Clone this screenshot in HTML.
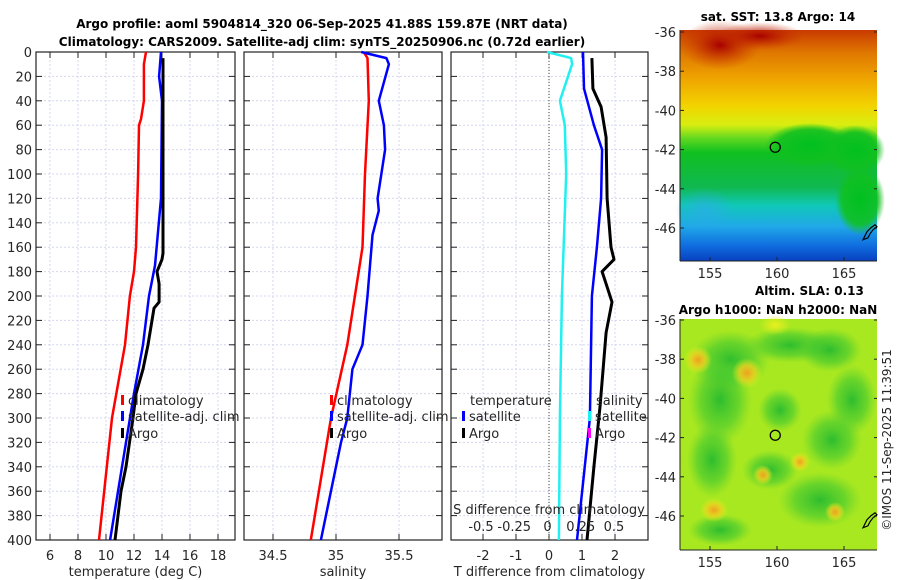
<!DOCTYPE html>
<html><head><meta charset="utf-8">
<style>
body{margin:0;background:#fff;}
svg{display:block;font-family:"DejaVu Sans","Liberation Sans",sans-serif;}
text{fill:#262626;}
</style></head>
<body>
<svg id="fig" width="900" height="580" viewBox="0 0 900 580" xmlns="http://www.w3.org/2000/svg">
<defs>
<linearGradient id="sstg" x1="0" y1="0" x2="0" y2="1">
<stop offset="0" stop-color="#c83a00"/>
<stop offset="0.1" stop-color="#e07800"/>
<stop offset="0.22" stop-color="#f0a800"/>
<stop offset="0.33" stop-color="#f2d400"/>
<stop offset="0.41" stop-color="#d8ee10"/>
<stop offset="0.47" stop-color="#60d820"/>
<stop offset="0.53" stop-color="#10c020"/>
<stop offset="0.68" stop-color="#10b850"/>
<stop offset="0.76" stop-color="#10c8b8"/>
<stop offset="0.85" stop-color="#20a8e8"/>
<stop offset="0.93" stop-color="#1070e0"/>
<stop offset="1" stop-color="#0840c0"/>
</linearGradient>
<radialGradient id="blobO"><stop offset="0" stop-color="#f0a020"/><stop offset="0.5" stop-color="#f0d020" stop-opacity="0.8"/><stop offset="1" stop-color="#e8f020" stop-opacity="0"/></radialGradient>
<radialGradient id="blobY"><stop offset="0" stop-color="#e8f020"/><stop offset="1" stop-color="#e8f020" stop-opacity="0"/></radialGradient>
<radialGradient id="blobG"><stop offset="0" stop-color="#20b830" stop-opacity="0.9"/><stop offset="0.6" stop-color="#40c830" stop-opacity="0.6"/><stop offset="1" stop-color="#60d030" stop-opacity="0"/></radialGradient>
<radialGradient id="blobR"><stop offset="0" stop-color="#a80000"/><stop offset="1" stop-color="#c83000" stop-opacity="0"/></radialGradient>
<radialGradient id="blobGr"><stop offset="0" stop-color="#00c020"/><stop offset="0.7" stop-color="#10c020" stop-opacity="0.9"/><stop offset="1" stop-color="#10c020" stop-opacity="0"/></radialGradient>
<radialGradient id="blobB"><stop offset="0" stop-color="#30a8f0" stop-opacity="0.6"/><stop offset="1" stop-color="#30a8f0" stop-opacity="0"/></radialGradient>
</defs>
<g id="titles">
<text x="322" y="28" font-size="12" font-weight="bold" text-anchor="middle" style="fill:#000">Argo profile: aoml 5904814_320 06-Sep-2025 41.88S 159.87E (NRT data)</text>
<text x="322" y="46" font-size="12" font-weight="bold" text-anchor="middle" style="fill:#000">Climatology: CARS2009. Satellite-adj clim: synTS_20250906.nc (0.72d earlier)</text>
</g>
<g id="panels"></g>
<g id="maps">
<text x="778" y="21" font-size="12" font-weight="bold" text-anchor="middle" style="fill:#000">sat. SST: 13.8 Argo: 14</text>
<g>
<rect x="680" y="30" width="197" height="231" fill="url(#sstg)"/>
<ellipse cx="720" cy="45" rx="40" ry="25" fill="url(#blobR)"/>
<ellipse cx="760" cy="36" rx="45" ry="14" fill="url(#blobR)"/>
<ellipse cx="810" cy="145" rx="45" ry="22" fill="url(#blobGr)"/>
<ellipse cx="855" cy="150" rx="30" ry="25" fill="url(#blobGr)"/>
<ellipse cx="860" cy="200" rx="25" ry="35" fill="url(#blobGr)"/>
<ellipse cx="705" cy="210" rx="30" ry="22" fill="url(#blobB)"/>
</g>
<g>
<rect x="680" y="319" width="197" height="231" fill="#a8e820"/>
<ellipse cx="730" cy="360" rx="40" ry="30" fill="url(#blobG)"/>
<ellipse cx="720" cy="400" rx="32" ry="45" fill="url(#blobG)"/>
<ellipse cx="790" cy="345" rx="45" ry="18" fill="url(#blobG)"/>
<ellipse cx="830" cy="350" rx="32" ry="22" fill="url(#blobG)"/>
<ellipse cx="852" cy="400" rx="25" ry="35" fill="url(#blobG)"/>
<ellipse cx="832" cy="440" rx="30" ry="30" fill="url(#blobG)"/>
<ellipse cx="712" cy="460" rx="25" ry="38" fill="url(#blobG)"/>
<ellipse cx="770" cy="470" rx="28" ry="20" fill="url(#blobG)"/>
<ellipse cx="820" cy="500" rx="42" ry="28" fill="url(#blobG)"/>
<ellipse cx="720" cy="530" rx="32" ry="16" fill="url(#blobG)"/>
<ellipse cx="780" cy="410" rx="22" ry="22" fill="url(#blobG)"/>
<ellipse cx="698" cy="360" rx="14" ry="14" fill="url(#blobO)"/>
<ellipse cx="747" cy="373" rx="15" ry="15" fill="url(#blobO)"/>
<ellipse cx="714" cy="510" rx="14" ry="12" fill="url(#blobO)"/>
<ellipse cx="763" cy="475" rx="10" ry="10" fill="url(#blobO)"/>
<ellipse cx="835" cy="512" rx="10" ry="10" fill="url(#blobO)"/>
<ellipse cx="800" cy="462" rx="10" ry="10" fill="url(#blobO)"/>
<ellipse cx="775" cy="325" rx="16" ry="10" fill="url(#blobY)"/>
</g>
<text x="755" y="295" font-size="12" font-weight="bold" style="fill:#000">Altim. SLA: 0.13</text>
<text x="778" y="314" font-size="12" font-weight="bold" text-anchor="middle" style="fill:#000">Argo h1000: NaN h2000: NaN</text>
<text transform="translate(891,440) rotate(-90)" font-size="12" text-anchor="middle">©IMOS 11-Sep-2025 11:39:51</text>
</g>
</svg>
<script>
// ---- data ----
const depthTicks=[0,20,40,60,80,100,120,140,160,180,200,220,240,260,280,300,320,340,360,380,400];
const tempTicks=[6,8,10,12,14,16,18];
const salTicks=[34.5,35,35.5];
const salTickLabels=["34.5","35","35.5"];
const tdiffTicks=[-2,-1,0,1,2];
const sdiffTickLabels=["-0.5","-0.25","0","0.25","0.5"];
const sdiffTicks=[-0.5,-0.25,0,0.25,0.5];
const tClimDepth=[0,10,40,55,60,100,160,180,200,240,300,400];
const tClimVal=[12.86,12.71,12.71,12.5,12.36,12.29,12.14,12.0,11.71,11.36,10.43,9.5];
const tSatDepth=[0,20,40,120,175,200,240,280,320,400];
const tSatVal=[13.93,13.79,14.0,13.93,13.5,13.07,12.64,12.0,11.43,10.29];
const tArgoDepth=[5,165,170,180,190,205,210,240,260,280,300,340,360,400];
const tArgoVal=[14.07,14.07,14.0,13.64,13.79,13.79,13.43,13.0,12.64,12.14,11.93,11.43,11.07,10.64];
const sClimDepth=[0,5,40,100,160,200,240,300,400];
const sClimVal=[35.22,35.25,35.26,35.23,35.21,35.15,35.09,34.96,34.8];
const sSatDepth=[0,5,10,40,60,80,120,130,150,200,240,260,300,320,400];
const sSatVal=[35.2,35.4,35.42,35.34,35.38,35.39,35.33,35.34,35.29,35.25,35.21,35.13,35.09,35.04,34.88];
const dSalSatDepth=[0,5,10,40,60,100,200,300,400];
const dSalSatVal=[-0.06,0.67,0.7,0.33,0.48,0.52,0.39,0.33,0.3];
const dTSatDepth=[0,30,60,80,120,160,200,300,400];
const dTSatVal=[1.03,1.06,1.36,1.61,1.58,1.45,1.3,1.24,0.85];
const dTArgoDepth=[5,30,45,70,120,160,170,180,190,205,230,260,290,340,400];
const dTArgoVal=[1.3,1.33,1.58,1.73,1.76,1.88,1.97,1.61,1.73,1.91,1.73,1.64,1.55,1.36,1.15];
const mapLonTicks=[155,160,165];
const mapLatTicks=[-36,-38,-40,-42,-44,-46];
const argoLon=159.87, argoLat=-41.88;

const NS='http://www.w3.org/2000/svg';
const panelsG=document.getElementById('panels');
const mapsG=document.getElementById('maps');
function mk(tag,attrs,parent){const e=document.createElementNS(NS,tag);for(const k in attrs)e.setAttribute(k,attrs[k]);(parent||panelsG).appendChild(e);return e;}
const yTop=52,yBot=540;
function yD(d){return yTop+(d/400)*(yBot-yTop);}
function linScale(v0,p0,v1,p1){return v=>p0+(v-v0)*(p1-p0)/(v1-v0);}

const panels=[
 {x0:36,x1:235,sx:linScale(6,50,18,218),ticks:tempTicks,labels:tempTicks.map(String),xlabel:'temperature (deg C)',name:'temperature-panel',yl:true},
 {x0:244,x1:442,sx:linScale(34.5,273,35.5,399),ticks:salTicks,labels:salTickLabels,xlabel:'salinity',name:'salinity-panel'},
 {x0:451,x1:648,sx:linScale(-2,483,2,615),ticks:tdiffTicks,labels:tdiffTicks.map(String),xlabel:'T difference from climatology',name:'difference-panel'}
];
panels.forEach(p=>{
 const g=mk('g',{});
 
 
 mk('rect',{x:p.x0,y:yTop,width:p.x1-p.x0,height:yBot-yTop,fill:'#fff'},g);
 depthTicks.forEach(d=>{
  if(d>0&&d<400){const l=mk('line',{x1:p.x0,x2:p.x1,y1:yD(d),y2:yD(d),stroke:'#d4d7ee','stroke-width':1,'stroke-dasharray':'2,2'},g);
  }
  mk('line',{x1:p.x0,x2:p.x0+6,y1:yD(d),y2:yD(d),stroke:'#222'},g);
  mk('line',{x1:p.x1-6,x2:p.x1,y1:yD(d),y2:yD(d),stroke:'#222'},g);
  if(p.yl){const t=mk('text',{x:p.x0-4,y:yD(d)+5,'font-size':13,'text-anchor':'end'},g);t.textContent=d;
   }
 });
 p.ticks.forEach((v,i)=>{
  const x=p.sx(v);
  const l=mk('line',{x1:x,x2:x,y1:yTop,y2:yBot,stroke:'#d4d7ee','stroke-dasharray':'2,2'},g);
  
  mk('line',{x1:x,x2:x,y1:yBot-6,y2:yBot,stroke:'#222'},g);
  mk('line',{x1:x,x2:x,y1:yTop,y2:yTop+6,stroke:'#222'},g);
  const t=mk('text',{x:x,y:yBot+20,'font-size':13,'text-anchor':'middle'},g);t.textContent=p.labels[i];
  
 });
 const xl=mk('text',{x:(p.x0+p.x1)/2,y:yBot+36,'font-size':13,'text-anchor':'middle'},g);xl.textContent=p.xlabel;
 
 const b=mk('rect',{x:p.x0,y:yTop,width:p.x1-p.x0,height:yBot-yTop,fill:'none',stroke:'#222','stroke-width':1.2},g);
 
 p.g=g;
});
const zl=mk('line',{x1:panels[2].sx(0),x2:panels[2].sx(0),y1:yTop,y2:yBot,stroke:'#4a4a2a','stroke-dasharray':'1,2'},panels[2].g);


function series(p,depths,vals,color,name,w){
 const pts=depths.map((d,i)=>p.sx(vals[i]).toFixed(1)+','+yD(d).toFixed(1)).join(' ');
 const l=mk('polyline',{points:pts,fill:'none',stroke:color,'stroke-width':w||2.5,'stroke-linejoin':'round'},p.g);
 
 
}
series(panels[0],tClimDepth,tClimVal,'#ff0000','temp-climatology-line');
series(panels[0],tSatDepth,tSatVal,'#0000ff','temp-satellite-adj-line');
series(panels[0],tArgoDepth,tArgoVal,'#000','temp-argo-line',3);
series(panels[1],sClimDepth,sClimVal,'#ff0000','sal-climatology-line');
series(panels[1],sSatDepth,sSatVal,'#0000ff','sal-satellite-adj-line');
series(panels[2],dSalSatDepth,dSalSatVal,'#20f0f0','sdiff-satellite-line');
series(panels[2],dTSatDepth,dTSatVal,'#0000ff','tdiff-satellite-line');
series(panels[2],dTArgoDepth,dTArgoVal,'#000','tdiff-argo-line',3);

function legendItem(g,x,y,color,label){
 const r=mk('rect',{x:x,y:y-10,width:3,height:10,fill:color},g);
 const t=mk('text',{x:x+7,y:y,'font-size':13},g);t.textContent=label;
 
}
[0,1].forEach(i=>{
 const g=panels[i].g;const x=i==0?121:330;
 legendItem(g,x,405,'#ff0000','climatology');
 legendItem(g,x,421,'#0000ff','satellite-adj. clim');
 legendItem(g,x,438,'#000','Argo');
});
{const g=panels[2].g;
 const t=mk('text',{x:470,y:405,'font-size':13},g);t.textContent='temperature';
 
 legendItem(g,462,421,'#0000ff','satellite');
 legendItem(g,462,438,'#000','Argo');
 const t2=mk('text',{x:596,y:405,'font-size':13},g);t2.textContent='salinity';
 
 legendItem(g,588,421,'#20f0f0','satellite');
 legendItem(g,588,438,'#ff00ff','Argo');
 const st=mk('text',{x:549,y:514,'font-size':13,'text-anchor':'middle'},g);st.textContent='S difference from climatology';
 
 const sS=linScale(-0.5,481,0.5,614);
 sdiffTicks.forEach((v,i)=>{const t=mk('text',{x:sS(v),y:531,'font-size':13,'text-anchor':'middle'},g);t.textContent=sdiffTickLabels[i];
  });
}

function mapAxes(x0,y0,w,h,latTop,name){
 const lonS=linScale(155,710,165,844);
 const latS=linScale(-36,latTop,-46,latTop+196);
 const g=mk('g',{},mapsG);
 
 
 mk('line',{x1:x0,x2:x0+w,y1:y0+h,y2:y0+h,stroke:'#222'},g);
 mk('line',{x1:x0,x2:x0,y1:y0,y2:y0+h,stroke:'#222'},g);
 mapLonTicks.forEach(v=>{const x=lonS(v);mk('line',{x1:x,x2:x,y1:y0+h-4,y2:y0+h,stroke:'#222'},g);
  const t=mk('text',{x:x,y:y0+h+17,'font-size':13,'text-anchor':'middle'},g);t.textContent=v;
  });
 mapLatTicks.forEach(v=>{const y=latS(v);mk('line',{x1:x0,x2:x0+4,y1:y,y2:y,stroke:'#222'},g);
  mk('line',{x1:x0+w-3,x2:x0+w,y1:y,y2:y,stroke:'#222'},g);
  const t=mk('text',{x:x0-4,y:y+5,'font-size':13,'text-anchor':'end'},g);t.textContent=v;
  });
 const c=mk('circle',{cx:lonS(argoLon),cy:latS(argoLat),r:5,fill:'none',stroke:'#000','stroke-width':1.3},g);
 
 const nz=mk('path',{d:`M${x0+w-14} ${latS(-46.6)} l4 -8 l4 -4 l4 -3 l2 2 l-4 3 l-3 4 l-2 4 z`,fill:'none',stroke:'#000','stroke-width':1.2},g);
 
}
mapAxes(680,30,197,231,32,'sst-map-axes');
mapAxes(680,319,197,231,320,'sla-map-axes');
</script>
</body></html>
